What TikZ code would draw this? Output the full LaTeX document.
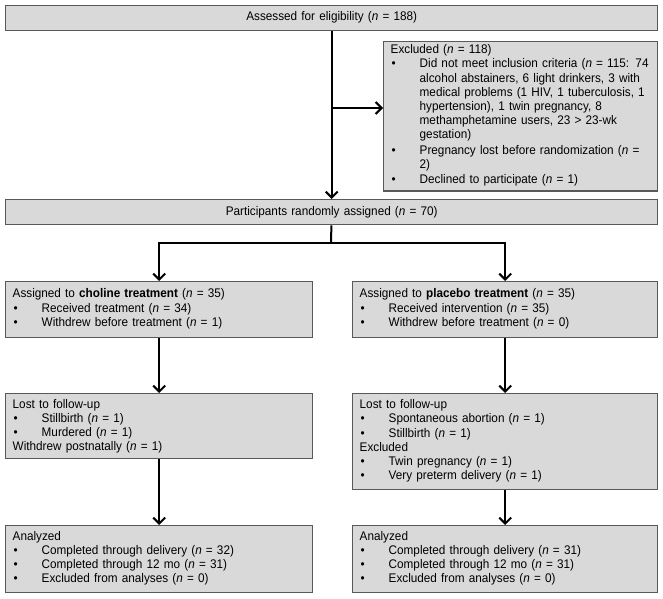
\documentclass[tikz,border=0pt]{standalone}
\usepackage{fontspec}
\setmainfont[FakeStretch=0.94]{Liberation Sans}
\usetikzlibrary{arrows.meta}

\definecolor{boxfill}{RGB}{217,217,217}
\definecolor{boxline}{RGB}{89,89,89}

\newcommand{\nn}{\textit{n}}
\newcommand{\itm}[1]{\par\noindent\makebox[29pt][l]{\hspace{1pt}\textbullet}\begin{tabular}[t]{@{}l@{}}#1\end{tabular}}

\tikzset{
  box/.style={draw=boxline, fill=boxfill, line width=1.4pt, anchor=north west,
    inner xsep=7pt, inner ysep=3pt, align=left,
    font=\fontsize{12.5}{14.2}\selectfont},
  flow/.style={line width=2pt, -{Straight Barb[length=6pt,width=12pt,line width=2pt]}},
  link/.style={line width=2pt}
}

\begin{document}
\begin{tikzpicture}[x=1pt,y=-1pt]
\useasboundingbox (0,0) rectangle (663,598);

\node[box, align=center, text width=638pt, minimum height=25pt] (assess) at (5,4.5) {Assessed for eligibility (\nn{} = 188)};
\node[box, text width=260pt, minimum height=148pt] (excl) at (383,41) {Excluded (\nn{} = 118)
\itm{Did not meet inclusion criteria (\nn{} = 115: 74\\ alcohol abstainers, 6 light drinkers, 3 with\\ medical problems (1 HIV, 1 tuberculosis, 1\\ hypertension), 1 twin pregnancy, 8\\ methamphetamine users, 23 > 23-wk\\ gestation)}
\itm{Pregnancy lost before randomization (\nn{} =\\ 2)}
\itm{Declined to participate (\nn{} = 1)}};
\node[box, align=center, text width=638pt, minimum height=25pt] (rand) at (5,199) {Participants randomly assigned (\nn{} = 70)};

\node[box, text width=293pt, minimum height=56pt] (chol) at (5,281) {Assigned to \textbf{choline treatment} (\nn{} = 35)
\itm{Received treatment (\nn{} = 34)}
\itm{Withdrew before treatment (\nn{} = 1)}};
\node[box, text width=291pt, minimum height=56pt] (plac) at (352,281) {Assigned to \textbf{placebo treatment} (\nn{} = 35)
\itm{Received intervention (\nn{} = 35)}
\itm{Withdrew before treatment (\nn{} = 0)}};

\node[box, text width=293pt, minimum height=65pt] (lostc) at (5,393) {Lost to follow-up
\itm{Stillbirth (\nn{} = 1)}
\itm{Murdered (\nn{} = 1)}
\par\noindent Withdrew postnatally (\nn{} = 1)};
\node[box, text width=291pt, minimum height=96pt] (lostp) at (352,393) {Lost to follow-up
\itm{Spontaneous abortion (\nn{} = 1)}
\itm{Stillbirth (\nn{} = 1)}
\par\noindent Excluded
\itm{Twin pregnancy (\nn{} = 1)}
\itm{Very preterm delivery (\nn{} = 1)}};

\node[box, text width=293pt, minimum height=67pt] (anac) at (5,525) {Analyzed
\itm{Completed through delivery (\nn{} = 32)}
\itm{Completed through 12 mo (\nn{} = 31)}
\itm{Excluded from analyses (\nn{} = 0)}};
\node[box, text width=291pt, minimum height=67pt] (anap) at (352,525) {Analyzed
\itm{Completed through delivery (\nn{} = 31)}
\itm{Completed through 12 mo (\nn{} = 31)}
\itm{Excluded from analyses (\nn{} = 0)}};

\coordinate (split) at (331,108);
\coordinate (fork) at (331,243);

\foreach \from/\to in {assess/rand,chol/lostc,lostc/anac,plac/lostp,lostp/anap}
\draw[flow] (\from) -- (\to);

\draw[flow] (split) -- (split -| excl.west);
\draw[link] (rand) -- (fork);
\draw[flow] (fork) -| (chol);
\draw[flow] (fork) -| (plac);
\end{tikzpicture}
\end{document}
